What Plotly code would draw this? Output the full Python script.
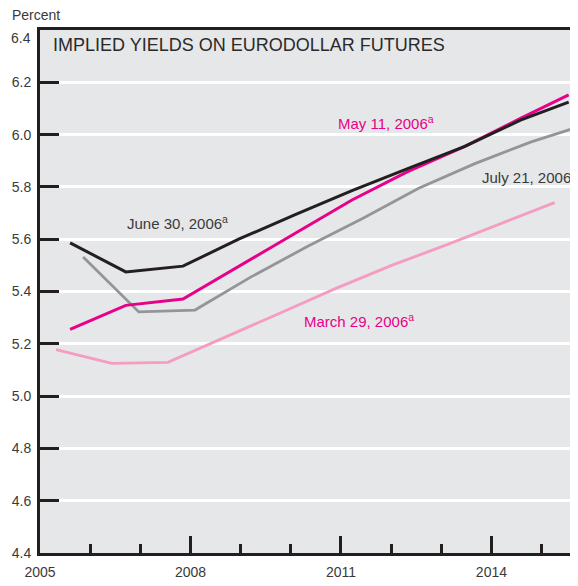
import plotly.graph_objects as go

# ---- data (decimal years, percent) ----
june30_x = [2005.60, 2006.71, 2007.85, 2008.96, 2010.10, 2011.22, 2012.33, 2013.47, 2014.58, 2015.54]
june30_y = [5.586, 5.475, 5.497, 5.600, 5.695, 5.786, 5.870, 5.955, 6.055, 6.124]

may11_x = [2005.60, 2006.71, 2007.85, 2008.96, 2010.10, 2011.22, 2012.33, 2013.47, 2014.58, 2015.54]
may11_y = [5.255, 5.347, 5.371, 5.495, 5.625, 5.750, 5.858, 5.955, 6.062, 6.152]

july21_x = [2005.86, 2006.97, 2008.09, 2009.20, 2010.32, 2011.43, 2012.55, 2013.67, 2014.78, 2015.90]
july21_y = [5.532, 5.322, 5.329, 5.455, 5.571, 5.679, 5.795, 5.889, 5.971, 6.040]

march29_x = [2005.32, 2006.43, 2007.55, 2008.67, 2009.78, 2010.90, 2012.01, 2013.13, 2014.24, 2015.26]
march29_y = [5.178, 5.125, 5.129, 5.222, 5.317, 5.412, 5.500, 5.580, 5.663, 5.740]

y_ticks = [4.4, 4.6, 4.8, 5.0, 5.2, 5.4, 5.6, 5.8, 6.0, 6.2, 6.4]
y_ticklabels = ["4.4", "4.6", "4.8", "5.0", "5.2", "5.4", "5.6", "5.8", "6.0", "6.2", "6.4"]
x_ticks = [2005, 2008, 2011, 2014]
x_ticklabels = ["2005", "2008", "2011", "2014"]

BLACK = "#231f20"
MAGENTA = "#e8008a"
GRAY = "#949598"
PINK = "#f59cc3"
TEXT = "#3a3a3a"
BG = "#e6e7e8"
FONT = "Liberation Sans, Arial, sans-serif"

# the page body has an 8px margin, so the figure is drawn 8px in from the top-left
OFF = 8
W, H = 570, 578
ML, MR, MT, MB = 32, 0, 22, 33

fig = go.Figure()
fig.add_trace(go.Scatter(x=march29_x, y=march29_y, mode="lines", line=dict(color=PINK, width=2.8)))
fig.add_trace(go.Scatter(x=july21_x, y=july21_y, mode="lines", line=dict(color=GRAY, width=2.8)))
fig.add_trace(go.Scatter(x=may11_x, y=may11_y, mode="lines", line=dict(color=MAGENTA, width=3)))
fig.add_trace(go.Scatter(x=june30_x, y=june30_y, mode="lines", line=dict(color=BLACK, width=3)))

def px_to_paper_x(px):
    return (px - OFF - ML) / (W - ML - MR)

def px_to_paper_y(py):
    return (H - MB - (py - OFF)) / (H - MT - MB)

# top tick label is drawn a little lower than its tick in the original
top_label = y_ticklabels[-1]
shown_ticklabels = y_ticklabels[:-1] + [""]

annotations = [
    dict(text="Percent", xref="paper", yref="paper", x=px_to_paper_x(10), y=px_to_paper_y(15),
         xanchor="left", yanchor="middle", showarrow=False, font=dict(family=FONT, size=14, color=TEXT)),
    dict(text=top_label, xref="paper", yref="paper", x=px_to_paper_x(33), y=px_to_paper_y(38),
         xanchor="right", yanchor="middle", showarrow=False, font=dict(family=FONT, size=14, color=TEXT)),
    dict(text="IMPLIED YIELDS ON EURODOLLAR FUTURES", xref="paper", yref="paper",
         x=px_to_paper_x(51), y=px_to_paper_y(45), xanchor="left", yanchor="middle", showarrow=False,
         font=dict(family=FONT, size=18, color="#2a2a2a")),
    dict(text="June 30, 2006<sup>a</sup>", x=2006.70, y=5.665, xanchor="left", yanchor="middle",
         showarrow=False, font=dict(family=FONT, size=15, color=TEXT)),
    dict(text="May 11, 2006<sup>a</sup>", x=2010.90, y=6.045, xanchor="left", yanchor="middle",
         showarrow=False, font=dict(family=FONT, size=15, color=MAGENTA)),
    dict(text="July 21, 2006", x=2013.78, y=5.835, xanchor="left", yanchor="middle",
         showarrow=False, font=dict(family=FONT, size=15, color=TEXT)),
    dict(text="March 29, 2006<sup>a</sup>", x=2010.22, y=5.289, xanchor="left", yanchor="middle",
         showarrow=False, font=dict(family=FONT, size=15, color=MAGENTA)),
]

fig.update_layout(
    template="none",
    width=W, height=H,
    margin=dict(l=ML, r=MR, t=MT, b=MB, pad=0),
    paper_bgcolor="white", plot_bgcolor=BG,
    showlegend=False,
    annotations=annotations,
    xaxis=dict(
        automargin=False,
        range=[2005, 2015.726], tickvals=x_ticks, ticktext=x_ticklabels,
        ticks="inside", ticklen=17, tickwidth=2.5, tickcolor=BLACK,
        minor=dict(dtick=1, tick0=2005, ticks="inside", ticklen=9, tickwidth=2.5, tickcolor=BLACK, showgrid=False),
        showline=True, linecolor=BLACK, linewidth=3, mirror=True,
        showgrid=False, zeroline=False,
        ticklabelstandoff=4,
        tickfont=dict(family=FONT, size=14, color=TEXT),
    ),
    yaxis=dict(
        automargin=False,
        range=[4.4, 6.4], tickvals=y_ticks, ticktext=shown_ticklabels,
        ticks="inside", ticklen=19, tickwidth=2.5, tickcolor=BLACK,
        showline=True, linecolor=BLACK, linewidth=3,
        showgrid=True, gridcolor="white", gridwidth=2.5, zeroline=False,
        ticklabelstandoff=3,
        tickfont=dict(family=FONT, size=14, color=TEXT),
    ),
)

fig.write_html("out.html")
